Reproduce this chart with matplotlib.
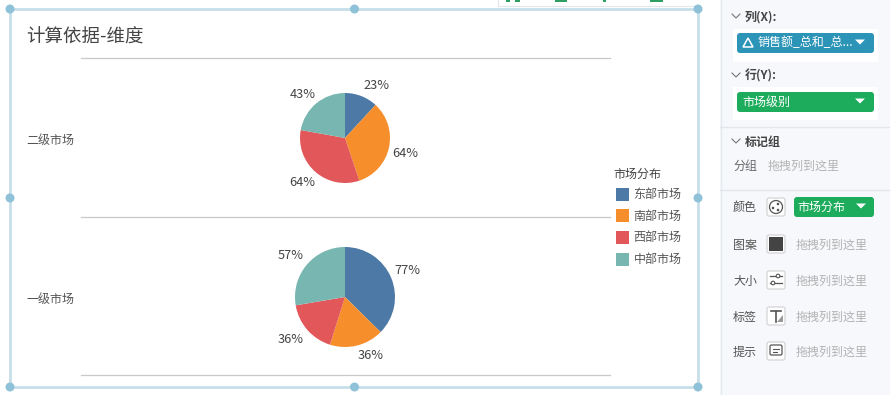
import matplotlib
matplotlib.use("Agg")
import matplotlib.pyplot as plt
from matplotlib.patches import Rectangle, FancyBboxPatch, Circle, Polygon

plt.rcParams['font.family'] = ['Noto Sans CJK SC', 'DejaVu Sans']

# ---------- data ----------
title = "计算依据-维度"
markets = ["东部市场", "南部市场", "西部市场", "中部市场"]
colors = ["#4d79a6", "#f68e2c", "#e25759", "#78b6b1"]
row_labels = ["二级市场", "一级市场"]
second_tier = [23, 64, 64, 43]
first_tier = [77, 36, 36, 57]
legend_title = "市场分布"
placeholder = "拖拽列到这里"

W, H = 890, 395
fig = plt.figure(figsize=(W / 100, H / 100), dpi=100, facecolor="white")
bg = fig.add_axes([0, 0, 1, 1])
bg.set_xlim(0, W)
bg.set_ylim(H, 0)
bg.axis("off")

TXT = "#4a4a4a"


def px(size):
    return size * 0.72


def label(x, y, s, size=12, color=TXT, ha="left", **kw):
    bg.text(x, y, s, fontsize=px(size), color=color, ha=ha, va="center", **kw)


def rect(x0, y0, x1, y1, fc, ec="none", lw=0, z=1):
    bg.add_patch(Rectangle((x0, y0), x1 - x0, y1 - y0, fc=fc, ec=ec, lw=lw, zorder=z))


def rounded(x0, y0, x1, y1, fc, ec="none", lw=0, r=3, z=3):
    bg.add_patch(FancyBboxPatch((x0 + r, y0 + r), x1 - x0 - 2 * r, y1 - y0 - 2 * r,
                                boxstyle=f"round,pad={r},rounding_size={r}",
                                fc=fc, ec=ec, lw=lw, zorder=z))


# ---------- right panel ----------
rect(720, 0, 890, 395, "#f6f8fb")
bg.plot([720.5, 720.5], [0, 395], color="#e6e9ee", lw=1, zorder=2)
rect(733, 29, 878, 62, "white", z=2)
rect(733, 87, 878, 120, "white", z=2)
for yy in (127, 190):
    bg.plot([720, 890], [yy - .5, yy - .5], color="#e3e6ea", lw=1, zorder=2)


def chevron(x, y):
    bg.plot([x - 4, x, x + 4], [y - 2, y + 2, y - 2], color="#777777", lw=0.8, zorder=4)


def dropdown(x, y):
    bg.add_patch(Polygon([(x - 5, y - 2.5), (x + 5, y - 2.5), (x, y + 2.5)], fc="white", ec="none", zorder=5))


chevron(736, 16)
label(745, 17, "列(X):", 12, "#444444", fontweight="bold")
rounded(737, 33, 874, 53, "#2b94b7")
bg.add_patch(Polygon([(748, 38), (753, 47), (743, 47)], fc="none", ec="white", lw=1.1, zorder=5))
label(758, 43, "销售额_总和_总...", 12, "white", zorder=5)
dropdown(860, 42)

chevron(736, 75)
label(745, 76, "行(Y):", 12, "#444444", fontweight="bold")
rounded(737, 92, 874, 112, "#1dab5c")
label(742, 102, "市场级别", 12, "white", zorder=5)
dropdown(860, 101)

chevron(736, 141)
label(745, 142, "标记组", 12, "#444444", fontweight="bold")
label(733, 166, "分组", 12, "#666666")
label(768, 166, placeholder, 12, "#b3b3b3")

rows = [("颜色", 207), ("图案", 244), ("大小", 280), ("标签", 316), ("提示", 351)]
for name, yy in rows:
    label(733, yy + 1, name, 12, "#555555")
    rounded(767, yy - 9, 785, yy + 9, "white", ec="#cfcfcf", lw=0.8, r=2)
    if name != "颜色":
        label(796, yy + 1, placeholder, 12, "#b3b3b3")

rounded(794, 197, 874, 217, "#1dab5c")
label(797, 207, legend_title, 12, "white", zorder=5)
dropdown(861, 206)

# small icons in the mark cards
bg.add_patch(Circle((776, 207), 6.5, fc="white", ec="#555555", lw=0.9, zorder=5))
bg.add_patch(Circle((778, 204), 1.3, fc="#555555", zorder=6))
bg.add_patch(Circle((773, 208), 1.3, fc="#555555", zorder=6))
bg.add_patch(Circle((778, 210), 1.3, fc="#555555", zorder=6))
rect(769, 237, 783, 251, "#444444", z=5)
for yy in (276, 283):
    bg.plot([770, 782], [yy, yy], color="#555555", lw=0.9, zorder=5)
bg.add_patch(Circle((778, 276), 1.8, fc="white", ec="#555555", lw=0.8, zorder=6))
bg.add_patch(Circle((773, 283), 1.8, fc="white", ec="#555555", lw=0.8, zorder=6))
bg.plot([771, 781], [311, 311], color="#555555", lw=1.2, zorder=5)
bg.plot([776, 776], [311, 322], color="#555555", lw=1.2, zorder=5)
bg.add_patch(Polygon([(777, 322), (783, 322), (783, 315)], fc="#999999", zorder=5))
rounded(770, 345, 782, 355, "white", ec="#555555", lw=0.9, r=1.5, z=5)
bg.plot([773, 779], [349, 349], color="#555555", lw=0.8, zorder=6)
bg.plot([773, 777], [352, 352], color="#555555", lw=0.8, zorder=6)

# ---------- toolbar remnant above the frame ----------
rect(498, 0, 700, 5, "white", z=1)
bg.plot([498, 498], [0, 6], color="#e2e6ea", lw=0.8)
bg.plot([498, 700], [6, 6], color="#e2e6ea", lw=0.8)
for x0, x1 in ((506, 510), (515, 520), (555, 567), (603, 606), (650, 663)):
    rect(x0, 0, x1, 2, "#2f9e62", z=2)

# ---------- chart chrome ----------
label(26, 38, title, 18.5, "#444444")
for yy in (58, 217, 375):
    bg.plot([81, 610], [yy - .5, yy - .5], color="#c9c9c9", lw=0.9, zorder=2)
label(26, 140, row_labels[0], 12, "#555555")
label(26, 299, row_labels[1], 12, "#555555")

label(613.5, 174, legend_title, 12, "#444444")
for name, col, yy in zip(markets, colors, (194, 215.5, 237, 259)):
    rect(616, yy - 6.5, 629, yy + 6.5, col, z=3)
    label(633.5, yy + 0.7, name, 12, "#555555")


# ---------- pies ----------
def draw_pie(values, cx, cy, r, dist, nudges):
    ax = fig.add_axes([(cx - r) / W, 1 - (cy + r) / H, 2 * r / W, 2 * r / H])
    ax.set_zorder(5)
    ax.patch.set_alpha(0)
    wedges, texts = ax.pie(values, colors=colors, radius=1, startangle=90, counterclock=False,
                           labels=[f"{v}%" for v in values], labeldistance=dist / r,
                           wedgeprops=dict(linewidth=0),
                           textprops=dict(fontsize=px(12.8), color="#444444", ha="center", va="center"))
    ax.set_xlim(-1, 1)
    ax.set_ylim(-1, 1)
    ax.set_aspect("auto")
    for t, (dx, dy) in zip(texts, nudges):
        x, y = t.get_position()
        t.set_position((x + dx / r, y + dy / r))
        t.set_ha("center")
        t.set_clip_on(False)


draw_pie(second_tier, 345, 138, 45, 62, [(8.5, -5), (0, -3), (-2, 2), (-3, -4)])
draw_pie(first_tier, 345, 297, 50, 68, [(0, 0), (9.5, 7), (-3, 2), (-2, -2)])

# ---------- selection frame ----------
FRAME = "#c6dfe8"
bg.plot([10, 698, 698, 10, 10], [9, 9, 387, 387, 9], color=FRAME, lw=2, zorder=6, solid_joinstyle="miter")
for hx, hy in ((10, 9), (354.5, 9), (698, 9), (10, 198), (698, 198), (10, 387), (354.5, 387), (698, 387)):
    bg.add_patch(Circle((hx, hy), 4.5, fc="#8fc2d9", ec="none", zorder=7))

fig.savefig("out.png", dpi=100, facecolor="white")
